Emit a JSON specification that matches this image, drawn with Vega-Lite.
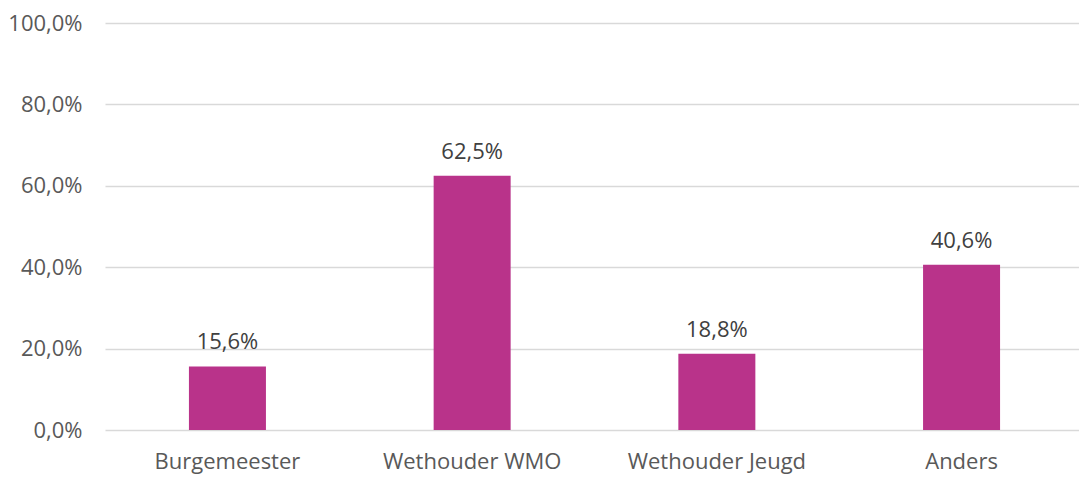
{
  "$schema": "https://vega.github.io/schema/vega-lite/v6.json",
  "width": 979,
  "height": 407,
  "autosize": {"type": "none"},
  "padding": {"left": 105, "top": 23, "right": 0, "bottom": 47},
  "background": "white",
  "config": {
    "locale": {"number": {"decimal": ",", "thousands": ".", "grouping": [3], "currency": ["€", ""]}},
    "view": {"stroke": null},
    "font": "Open Sans"
  },
  "data": {
    "values": [
      {"categorie": "Burgemeester", "waarde": 0.15625},
      {"categorie": "Wethouder WMO", "waarde": 0.625},
      {"categorie": "Wethouder Jeugd", "waarde": 0.1875},
      {"categorie": "Anders", "waarde": 0.40625}
    ]
  },
  "encoding": {
    "x": {
      "field": "categorie", "type": "nominal", "sort": null,
      "scale": {"paddingInner": 0.6853, "paddingOuter": 0.343},
      "axis": {"title": null, "labelAngle": 0, "domain": false, "ticks": false, "labelFontSize": 22, "labelColor": "#595959", "labelPadding": 21, "labelFont": "Open Sans"}
    },
    "y": {
      "field": "waarde", "type": "quantitative",
      "scale": {"domain": [0, 1]},
      "axis": {"title": null, "format": ".1%", "values": [0, 0.2, 0.4, 0.6, 0.8, 1], "domain": false, "ticks": false, "labelFontSize": 22, "labelColor": "#595959", "labelPadding": 23, "gridColor": "#d9d9d9", "gridWidth": 1.3, "labelFont": "Open Sans"}
    }
  },
  "layer": [
    {"mark": {"type": "bar", "color": "#B9338A"}},
    {
      "mark": {"type": "text", "baseline": "bottom", "dy": -12, "fontSize": 22, "color": "#404040", "font": "Open Sans"},
      "encoding": {"text": {"field": "waarde", "type": "quantitative", "format": ".1%"}}
    }
  ]
}
